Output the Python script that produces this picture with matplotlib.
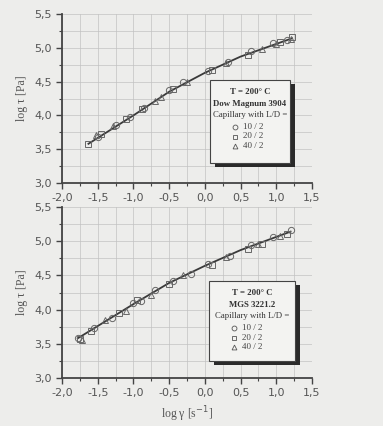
import numpy as np
import matplotlib
matplotlib.use('Agg')
import matplotlib.pyplot as plt
from matplotlib.patches import Rectangle
from matplotlib.ticker import MultipleLocator, FuncFormatter

# top panel: Dow Magnum 3904
top_x_10 = [-1.50, -1.25, -1.05, -0.85, -0.50, -0.30, 0.05, 0.33, 0.65, 0.95, 1.15]
top_y_10 = [3.68, 3.86, 3.97, 4.11, 4.38, 4.50, 4.66, 4.79, 4.95, 5.07, 5.12]
top_x_20 = [-1.63, -1.45, -1.10, -0.88, -0.45, 0.10, 0.60, 1.05, 1.22]
top_y_20 = [3.57, 3.72, 3.95, 4.10, 4.39, 4.67, 4.90, 5.08, 5.16]
top_x_40 = [-1.52, -1.28, -0.70, -0.62, -0.25, 0.30, 0.80, 1.00, 1.20]
top_y_40 = [3.71, 3.85, 4.22, 4.27, 4.49, 4.77, 4.98, 5.06, 5.13]
top_fit_x = [-1.63, -1.0, -0.5, 0.0, 0.5, 1.22]
top_fit_y = [3.58, 4.00, 4.35, 4.63, 4.87, 5.14]

# bottom panel: MGS 3221.2
bot_x_10 = [-1.78, -1.55, -1.30, -1.00, -0.90, -0.70, -0.45, -0.20, 0.05, 0.35, 0.65, 0.95, 1.20]
bot_y_10 = [3.58, 3.73, 3.88, 4.10, 4.13, 4.28, 4.42, 4.52, 4.66, 4.78, 4.95, 5.06, 5.16]
bot_x_20 = [-1.75, -1.60, -1.20, -0.95, -0.50, 0.10, 0.60, 0.80, 1.15]
bot_y_20 = [3.57, 3.68, 3.95, 4.14, 4.37, 4.65, 4.88, 4.96, 5.10]
bot_x_40 = [-1.72, -1.40, -1.10, -0.75, -0.30, 0.30, 0.75, 1.05]
bot_y_40 = [3.56, 3.85, 3.98, 4.22, 4.50, 4.77, 4.96, 5.08]
bot_fit_x = [-1.78, -1.0, -0.5, 0.0, 0.5, 1.20]
bot_fit_y = [3.58, 4.08, 4.39, 4.64, 4.87, 5.14]

bg = '#ededeb'
ink = '#555555'
W, H = 383, 426

fig = plt.figure(figsize=(W / 100, H / 100), dpi=100, facecolor=bg)
ax1 = fig.add_axes([62 / W, 1 - 183 / H, 250 / W, 169 / H])
ax2 = fig.add_axes([62 / W, 1 - 378 / H, 250 / W, 171 / H])

comma = FuncFormatter(lambda v, p: f'{v:.1f}'.replace('.', ','))


def panel(ax, series, fit_x, fit_y, title, box_px, ax_top, ax_h):
    ax.set_facecolor(bg)
    ax.set_xlim(-2.0, 1.5)
    ax.set_ylim(3.0, 5.5)
    ax.xaxis.set_major_locator(MultipleLocator(0.5))
    ax.xaxis.set_minor_locator(MultipleLocator(0.25))
    ax.yaxis.set_major_locator(MultipleLocator(0.5))
    ax.yaxis.set_minor_locator(MultipleLocator(0.25))
    ax.xaxis.set_major_formatter(comma)
    ax.yaxis.set_major_formatter(comma)
    ax.grid(which='both', color='#c2c2c2', linewidth=0.5)
    ax.set_axisbelow(True)
    for s in ['top', 'right']:
        ax.spines[s].set_visible(False)
    for s in ['left', 'bottom']:
        ax.spines[s].set_color('#444444')
        ax.spines[s].set_linewidth(1.3)
    ax.tick_params(which='major', direction='out', length=4, width=1, colors='#444444',
                   labelcolor=ink, labelsize=8)
    ax.tick_params(which='minor', direction='out', length=2.5, width=0.8, colors='#444444')

    ax.plot(fit_x, fit_y, color='#3a3a3a', linewidth=1.3, zorder=3)
    for (xs, ys), m in zip(series, ['o', 's', '^']):
        ax.plot(xs, ys, m, ms=4.5, mfc='none', mec='#666666', mew=0.7, zorder=4)

    ax.set_ylabel('log τ [Pa]', family='Liberation Serif', fontsize=8.5, color=ink)

    # legend box with shadow, positions given in figure pixels
    x0, y0, x1, y1 = box_px
    fx = lambda px: (px - 62) / 250
    fy = lambda py: (ax_top + ax_h - py) / ax_h
    bx, bw = fx(x0), fx(x1) - fx(x0)
    by, bh = fy(y1), fy(y0) - fy(y1)
    sdx, sdy = 5 / 250, 4 / ax_h
    ax.add_patch(Rectangle((bx + sdx, by - sdy), bw, bh, transform=ax.transAxes,
                           facecolor='#2a2a2a', edgecolor='none', zorder=5))
    ax.add_patch(Rectangle((bx, by), bw, bh, transform=ax.transAxes,
                           facecolor='#f3f3f1', edgecolor='#444444', lw=0.8, zorder=6))
    cx = bx + bw / 2
    lines = [('T = 200° C', 'bold'), (title, 'bold'), ('Capillary with L/D =', 'normal')]
    for off, (t, w) in zip([12, 24, 35], lines):
        ax.text(cx, fy(y0 + off), t, transform=ax.transAxes, ha='center',
                va='center', fontsize=6.3, weight=w, family='Liberation Serif', color='#333333',
                zorder=7)
    for off, m, t in zip([47, 56.5, 66], ['o', 's', '^'], ['10 / 2', '20 / 2', '40 / 2']):
        yy = fy(y0 + off)
        ax.plot([fx(x0 + 25)], [yy], m, ms=3.5, mfc='none', mec='#555555', mew=0.6,
                transform=ax.transAxes, zorder=7)
        ax.text(fx(x0 + 33), yy, t, transform=ax.transAxes, ha='left', va='center',
                fontsize=6.5, family='Liberation Serif', color='#444444', zorder=7)


panel(ax1, [(top_x_10, top_y_10), (top_x_20, top_y_20), (top_x_40, top_y_40)],
      top_fit_x, top_fit_y, 'Dow Magnum 3904', (210, 80, 290, 163), 14, 169)
panel(ax2, [(bot_x_10, bot_y_10), (bot_x_20, bot_y_20), (bot_x_40, bot_y_40)],
      bot_fit_x, bot_fit_y, 'MGS 3221.2', (209, 281, 295, 361), 207, 171)
ax2.set_xlabel('log γ [s$^{-1}$]', family='Liberation Serif', fontsize=8.5, color=ink)

fig.savefig('out.png', dpi=100, facecolor=bg)
